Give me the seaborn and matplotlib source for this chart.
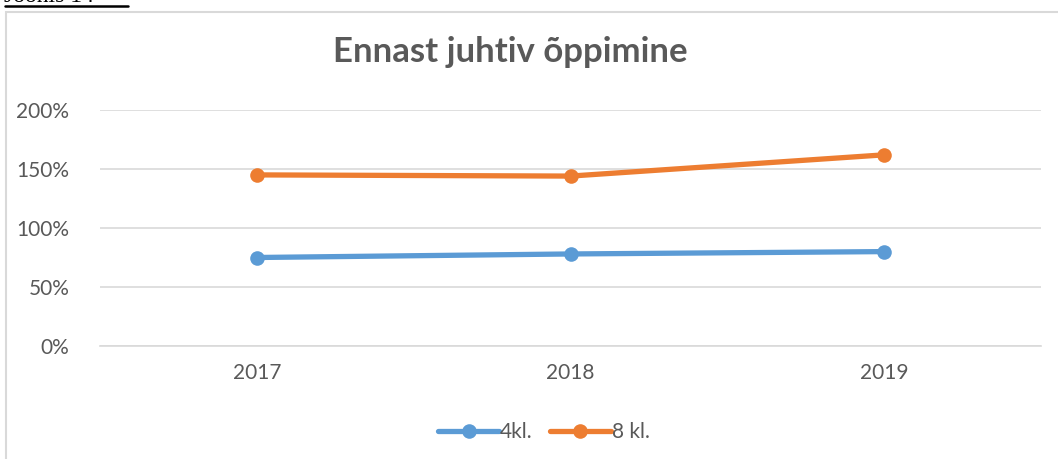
import matplotlib
matplotlib.use("Agg")
import matplotlib.pyplot as plt
import seaborn as sns
import pandas as pd
from matplotlib.patches import Rectangle
from matplotlib.ticker import FuncFormatter

years = ["2017", "2018", "2019"]
series_names = ["4kl.", "8 kl."]
values_4kl = [0.75, 0.78, 0.80]
values_8kl = [1.45, 1.44, 1.62]
yticks = [0, 0.5, 1.0, 1.5, 2.0]
title = "Ennast juhtiv õppimine"
colors = ["#5B9BD5", "#ED7D31"]

df = pd.DataFrame({
    "year": years * 2,
    "value": values_4kl + values_8kl,
    "series": [series_names[0]] * 3 + [series_names[1]] * 3,
})

sns.set_theme(style="white")
plt.rcParams["font.family"] = ["Lato", "DejaVu Sans"]

fig = plt.figure(figsize=(10.58, 4.59), dpi=100)
ax = fig.add_axes([100 / 1058, 1 - 346 / 459, 941 / 1058, 236 / 459])

sns.lineplot(data=df, x="year", y="value", hue="series", palette=colors,
             marker="o", markersize=10.5, linewidth=3.8, markeredgewidth=0,
             sort=False, ax=ax)

ax.set_xlim(-0.5, 2.5)
ax.set_ylim(0, 2.0)
ax.set_yticks(yticks)
ax.yaxis.set_major_formatter(FuncFormatter(lambda v, p: f"{v*100:.0f}%"))
ax.grid(axis="y", color="#d9d9d9", linewidth=1.2)
ax.set_axisbelow(True)
for s in ["top", "right", "left"]:
    ax.spines[s].set_visible(False)
ax.spines["bottom"].set_color("#d9d9d9")
ax.spines["bottom"].set_linewidth(1.2)
ax.tick_params(axis="both", length=0, labelsize=15, labelcolor="#595959")
ax.tick_params(axis="x", pad=12)
ax.tick_params(axis="y", pad=22)
ax.set_xlabel("")
ax.set_ylabel("")

fig.text(510 / 1058, 1 - 52 / 459, title, ha="center", va="center",
         fontsize=25, fontweight="bold", color="#595959")

leg = ax.legend(loc="center", bbox_to_anchor=(544 / 1058, 1 - 432 / 459),
                bbox_transform=fig.transFigure, ncol=2, frameon=False,
                fontsize=15, handlelength=2.9, columnspacing=0.85,
                handletextpad=0.05)
for t in leg.get_texts():
    t.set_color("#595959")

fig.patches.append(Rectangle((6 / 1058, -0.05), 1.1, 1 - 12 / 459 + 0.05,
                             transform=fig.transFigure, fill=False,
                             edgecolor="#d9d9d9", linewidth=1.5))
fig.text(4 / 1058, 1 - 2 / 459, "Joonis 14", ha="left", va="baseline",
         fontsize=17, family=["Liberation Serif", "DejaVu Serif"], color="black")
fig.add_artist(plt.Line2D([5 / 1058, 128 / 1058], [1 - 6 / 459, 1 - 6 / 459],
                          transform=fig.transFigure, color="black", linewidth=1.8))

fig.savefig("out.png", dpi=100)
